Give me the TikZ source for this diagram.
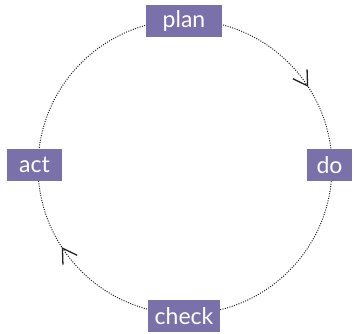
\documentclass[tikz,border=0pt]{standalone}
\usepackage{fontspec}
\setmainfont{Lato}
\usetikzlibrary{arrows.meta,decorations.markings,backgrounds}
\definecolor{boxpurple}{RGB}{122,113,170}
\definecolor{linegray}{RGB}{35,35,35}
\begin{document}
\begin{tikzpicture}[x=1pt,y=1pt,
  stagebox/.style={fill=boxpurple,text=white,minimum height=32pt,inner sep=0pt,font=\fontsize{23}{25}\selectfont},
  plainline/.style={draw=linegray,line width=1pt,dash pattern=on 1pt off 1.4pt},
  cycleline/.style={plainline,
    postaction={decorate},
    decoration={markings,mark=at position 0.633 with {\arrow[linegray,solid,line width=1.3pt]{Straight Barb[length=14pt,width=17pt]}}}}]
\useasboundingbox (0,0) rectangle (359,333);
\coordinate (P) at (185,313);
\coordinate (D) at (332,166);
\coordinate (C) at (185,19);
\coordinate (A) at (38,166);
\node[stagebox,minimum width=76pt] (plan) at (184,312) {plan};
\node[stagebox,minimum width=45pt] (do) at (329.5,168) {do};
\node[stagebox,minimum width=72pt] (check) at (184,17) {check};
\node[stagebox,minimum width=55pt] (act) at (34.5,168) {act};
\begin{scope}[on background layer]
\draw[cycleline] (P) arc[start angle=90,end angle=0,radius=147];
\draw[plainline] (D) arc[start angle=0,end angle=-90,radius=147];
\draw[cycleline] (C) arc[start angle=270,end angle=180,radius=147];
\draw[plainline] (A) arc[start angle=180,end angle=90,radius=147];
\end{scope}
\end{tikzpicture}
\end{document}
